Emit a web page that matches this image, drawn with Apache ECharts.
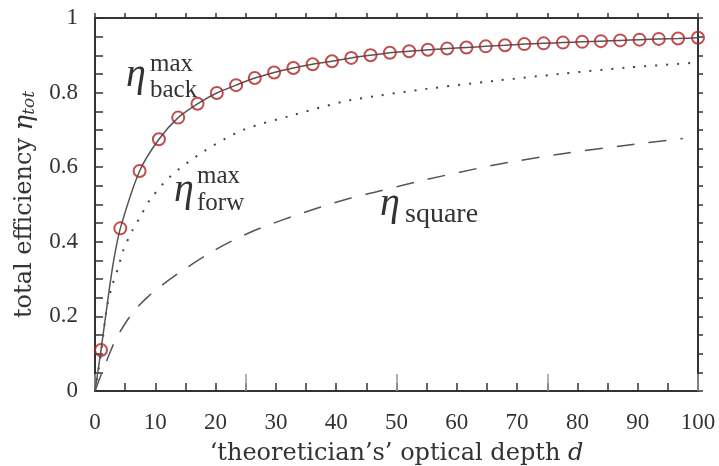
<!DOCTYPE html>
<html>
<head>
<meta charset="utf-8">
<script src="https://cdn.jsdelivr.net/npm/echarts@6/dist/echarts.min.js"></script>
<style>
  html, body { margin: 0; padding: 0; background: #fff; }
  #chart { width: 719px; height: 466px; }
</style>
</head>
<body>
<div id="chart"></div>
<script>
// optical depth d of the circle markers
const circleD = [1, 4.2, 7.4, 10.6, 13.8, 17.0, 20.2, 23.4, 26.5, 29.7, 32.9, 36.1, 39.3, 42.5, 45.7, 48.9,
                 52.1, 55.2, 58.4, 61.6, 64.8, 68.0, 71.2, 74.4, 77.6, 80.8, 83.9, 87.1, 90.3, 93.5, 96.7, 100];
// eta_back^max at those points
const circleEta = [0.110, 0.436, 0.590, 0.675, 0.733, 0.770, 0.799, 0.820, 0.839, 0.854, 0.866, 0.876, 0.884, 0.893, 0.900, 0.907,
                   0.911, 0.915, 0.918, 0.921, 0.924, 0.927, 0.930, 0.932, 0.934, 0.936, 0.938, 0.940, 0.942, 0.944, 0.945, 0.947];
// extra points of the solid curve near the origin
const backLeadD = [0, 2.2, 3.1];
const backLeadEta = [0, 0.253, 0.35];

// eta_forw^max (dotted)
const forwD = [0, 1, 1.9, 2.8, 3.9, 4.7, 6.25, 7.5, 9.1, 12.4, 18.0, 24.6, 32.9, 41.2, 46.7, 55, 66, 77.1, 88.2, 99.5];
const forwEta = [0, 0.10, 0.217, 0.28, 0.333, 0.378, 0.432, 0.467, 0.512, 0.574, 0.642, 0.700, 0.740, 0.776, 0.791, 0.810, 0.831, 0.850, 0.867, 0.880];

// eta_square (dashed)
const squareD = [0, 1.1, 2.2, 3.4, 5.0, 6.6, 8.8, 10.8, 14.6, 19.9, 25.4, 31.0, 36.8, 42.3, 46.7, 55, 66, 77, 88.2, 97.5];
const squareEta = [0, 0.047, 0.092, 0.137, 0.181, 0.217, 0.253, 0.280, 0.324, 0.378, 0.423, 0.458, 0.490, 0.517, 0.534, 0.567, 0.605, 0.635, 0.659, 0.677];

const SERIF = '"Liberation Serif", "DejaVu Serif", serif';
const WIDE_SERIF = '"DejaVu Serif", serif';
const INK = '#333';

function pairs(xs, ys) {
    return xs.map((x, i) => [x, ys[i]]);
}

const backLine = pairs(backLeadD, backLeadEta).concat(pairs(circleD, circleEta))
    .sort((a, b) => a[0] - b[0]);

const chart = echarts.init(document.getElementById('chart'));

// small text helper, y is roughly the baseline
function label(text, x, baseline, size, italic) {
    return {
        type: 'text',
        x: x,
        y: baseline - size * 0.32 + (italic ? 5 : 0),
        z: 10,
        style: {
            text: text,
            font: (italic ? 'italic ' : '') + size + 'px ' + SERIF,
            fill: INK,
            verticalAlign: 'middle',
            align: 'left'
        }
    };
}

const axisLineStyle = { color: INK, width: 2 };

const option = {
    animation: false,
    backgroundColor: '#fff',
    grid: { left: 95, right: 21, top: 18, bottom: 75, outerBoundsMode: 'none' },
    xAxis: [
        {
            type: 'value', min: 0, max: 100, interval: 5, position: 'bottom',
            axisLine: { show: true, onZero: false, lineStyle: axisLineStyle },
            axisTick: { inside: true, length: 8, lineStyle: { color: INK, width: 1.5 } },
            splitLine: { show: false },
            axisLabel: {
                margin: 20, color: INK, fontFamily: SERIF, fontSize: 23,
                formatter: v => (Math.round(v) % 10 === 0 ? String(Math.round(v)) : '')
            },
            name: '‘theoretician’s’ optical depth {i|d}',
            nameLocation: 'middle', nameGap: 51,
            nameTextStyle: {
                color: INK, fontFamily: WIDE_SERIF, fontSize: 24,
                rich: { i: { fontStyle: 'italic', fontFamily: WIDE_SERIF, fontSize: 24, color: INK } }
            }
        },
        {
            type: 'value', min: 0, max: 100, interval: 5, position: 'top',
            axisLine: { show: true, onZero: false, lineStyle: axisLineStyle },
            axisTick: { inside: false, length: 5, lineStyle: { color: INK, width: 1.5 } },
            splitLine: { show: false },
            axisLabel: { show: false }
        },
        {
            // longer grey ticks at quarters
            type: 'value', min: 0, max: 100, interval: 25, position: 'bottom',
            axisLine: { show: false },
            axisTick: { inside: true, length: 17, lineStyle: { color: '#999', width: 1.5 } },
            splitLine: { show: false },
            axisLabel: { show: false }
        }
    ],
    yAxis: [
        {
            type: 'value', min: 0, max: 1, interval: 0.05, position: 'left',
            axisLine: { show: true, onZero: false, lineStyle: axisLineStyle },
            axisTick: { inside: true, length: 8, lineStyle: { color: INK, width: 1.5 } },
            splitLine: { show: false },
            axisLabel: {
                margin: 17, color: INK, fontFamily: SERIF, fontSize: 23,
                formatter: v => {
                    const r = Math.round(v * 100);
                    return r % 20 === 0 ? String(r / 100) : '';
                }
            },
            name: 'total efficiency {i|η}{s|tot}',
            nameLocation: 'middle', nameGap: 55,
            nameTextStyle: {
                color: INK, fontFamily: WIDE_SERIF, fontSize: 24,
                rich: {
                    i: { fontStyle: 'italic', fontFamily: WIDE_SERIF, fontSize: 26, color: INK },
                    s: { fontStyle: 'italic', fontFamily: WIDE_SERIF, fontSize: 17, color: INK, verticalAlign: 'bottom', padding: [10, 0, 0, 0] }
                }
            }
        },
        {
            type: 'value', min: 0, max: 1, interval: 0.05, position: 'right',
            axisLine: { show: true, onZero: false, lineStyle: axisLineStyle },
            axisTick: { inside: false, length: 5, lineStyle: { color: INK, width: 1.5 } },
            splitLine: { show: false },
            axisLabel: { show: false }
        }
    ],
    series: [
        {
            name: 'square', type: 'line', data: pairs(squareD, squareEta),
            symbol: 'none', smooth: 0.3,
            lineStyle: { color: '#555', width: 1.5, type: [18, 14] }
        },
        {
            name: 'forw', type: 'line', data: pairs(forwD, forwEta),
            symbol: 'none', smooth: 0.3,
            lineStyle: { color: '#444', width: 2, type: [2, 9] }
        },
        {
            name: 'back', type: 'line', data: backLine,
            symbol: 'none', smooth: 0.3,
            lineStyle: { color: '#555', width: 1.5 }
        },
        {
            name: 'back points', type: 'scatter', data: pairs(circleD, circleEta),
            symbol: 'circle', symbolSize: 12, z: 5,
            itemStyle: { color: 'rgba(255,255,255,0)', borderColor: '#b22222', borderWidth: 2 }
        }
    ],
    graphic: [
        label('η', 126, 83, 40, true),
        label('max', 150, 72, 25, false),
        label('back', 150, 98, 25, false),
        label('η', 174, 198, 40, true),
        label('max', 197, 184, 25, false),
        label('forw', 197, 211, 25, false),
        label('η', 380, 212, 40, true),
        label('square', 405, 224, 28, false)
    ]
};

chart.setOption(option);
</script>
</body>
</html>
